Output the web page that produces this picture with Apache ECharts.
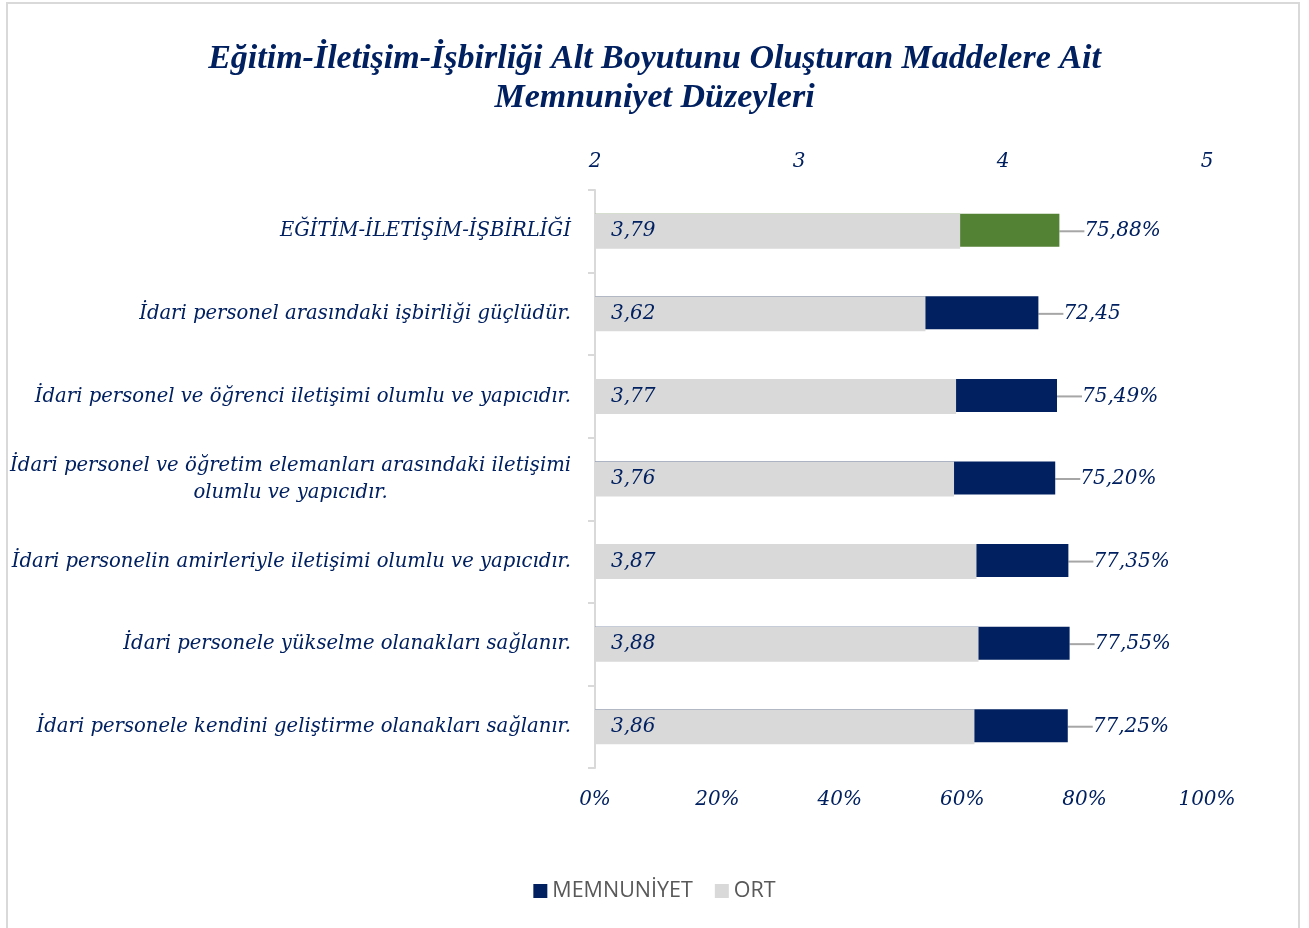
<!DOCTYPE html>
<html>
<head>
<meta charset="utf-8">
<script src="https://cdn.jsdelivr.net/npm/echarts@6/dist/echarts.min.js"></script>
<style>
html,body{margin:0;padding:0;background:#fff;}
#frame{position:absolute;left:6px;top:2px;width:1294px;height:940px;border:2px solid #d9d9d9;box-sizing:border-box;}
#chart{position:absolute;left:0;top:0;width:1309px;height:928px;}
</style>
</head>
<body>
<div id="frame"></div>
<div id="chart"></div>
<script>
const categories = [
  "EĞİTİM-İLETİŞİM-İŞBİRLİĞİ",
  "İdari personel arasındaki işbirliği güçlüdür.",
  "İdari personel ve öğrenci iletişimi olumlu ve yapıcıdır.",
  "İdari personel ve öğretim elemanları arasındaki iletişimi\nolumlu ve yapıcıdır.",
  "İdari personelin amirleriyle iletişimi olumlu ve yapıcıdır.",
  "İdari personele yükselme olanakları sağlanır.",
  "İdari personele kendini geliştirme olanakları sağlanır."
];
const ortValues = [3.79, 3.62, 3.77, 3.76, 3.87, 3.88, 3.86];
const memnuniyetValues = [0.7588, 0.7245, 0.7549, 0.7520, 0.7735, 0.7755, 0.7725];
const memnuniyetLabels = ["75,88%", "72,45", "75,49%", "75,20%", "77,35%", "77,55%", "77,25%"];
const topTicks = [2, 3, 4, 5];
const bottomTicks = [0, 0.2, 0.4, 0.6, 0.8, 1.0];

const NAVY = '#002060';
const GREEN = '#548235';
const GRAY = '#d9d9d9';
const SERIF = '"DejaVu Serif", "Liberation Serif", serif';
const TSERIF = '"Liberation Serif", serif';
const FS = 20;
const CFS = 19.6;

const chart = echarts.init(document.getElementById('chart'), null, {renderer: 'canvas'});

const option = {
  backgroundColor: 'transparent',
  animation: false,
  title: {
    text: 'Eğitim-İletişim-İşbirliği Alt Boyutunu Oluşturan Maddelere Ait\nMemnuniyet Düzeyleri',
    left: 'center',
    top: 35,
    textStyle: {
      fontFamily: TSERIF, fontStyle: 'italic', fontWeight: 'bold',
      fontSize: 34, lineHeight: 39, color: NAVY, align: 'center'
    }
  },
  legend: {
    bottom: 21,
    left: 'center',
    itemWidth: 14, itemHeight: 14, itemGap: 22,
    icon: 'rect',
    textStyle: {fontFamily: '"Open Sans", sans-serif', fontSize: 21.5, color: '#595959'},
    data: [
      {name: 'MEMNUNİYET', itemStyle: {color: NAVY}},
      {name: 'ORT', itemStyle: {color: GRAY}}
    ]
  },
  grid: {left: 595, right: 102, top: 190, bottom: 160, containLabel: false},
  xAxis: [
    {
      type: 'value', position: 'top', min: topTicks[0], max: topTicks[topTicks.length-1], interval: 1,
      axisLine: {show: false}, axisTick: {show: false}, splitLine: {show: false},
      axisLabel: {margin: 18, fontFamily: SERIF, fontStyle: 'italic', fontSize: FS, color: NAVY,
        formatter: v => String(v)}
    },
    {
      type: 'value', position: 'bottom', min: bottomTicks[0], max: bottomTicks[bottomTicks.length-1], interval: 0.2,
      axisLine: {show: false}, axisTick: {show: false}, splitLine: {show: false},
      axisLabel: {margin: 22, fontFamily: SERIF, fontStyle: 'italic', fontSize: FS, color: NAVY,
        formatter: v => Math.round(v * 100) + '%'}
    }
  ],
  yAxis: {
    type: 'category', inverse: true, data: categories,
    axisLine: {show: true, lineStyle: {color: GRAY, width: 2}},
    axisTick: {show: true, length: 7, lineStyle: {color: GRAY, width: 2}},
    axisLabel: {
      margin: 24, fontFamily: SERIF, fontStyle: 'italic', fontSize: CFS, color: NAVY,
      formatter: function (v) {
        if (v.indexOf('\n') >= 0) {
          return v.split('\n').map(s => '{c|' + s + '}').join('\n');
        }
        return v;
      },
      rich: {
        c: {fontFamily: SERIF, fontStyle: 'italic', fontSize: CFS, color: NAVY, align: 'center', lineHeight: 27}
      }
    }
  },
  series: [
    {
      name: 'MEMNUNİYET', type: 'bar', xAxisIndex: 1, barWidth: 33, barGap: '-100%',
      itemStyle: {color: NAVY},
      data: memnuniyetValues.map((v, i) => i === 0 ? {value: v, itemStyle: {color: GREEN}} : v),
      label: {
        show: true, position: 'right', distance: 2, padding: [0, 0, 0, 9],
        fontFamily: SERIF, fontStyle: 'italic', fontSize: FS, color: NAVY,
        formatter: p => memnuniyetLabels[p.dataIndex]
      },
      labelLayout: {dx: 14, dy: 1},
      labelLine: {show: true, lineStyle: {color: '#a6a6a6', width: 2}}
    },
    {
      name: 'ORT', type: 'bar', xAxisIndex: 0, barWidth: 35, barGap: '-100%', clip: true,
      itemStyle: {color: GRAY},
      data: ortValues,
      label: {
        show: true, position: 'insideLeft', distance: 16,
        fontFamily: SERIF, fontStyle: 'italic', fontSize: FS, color: NAVY,
        formatter: p => String(p.value).replace('.', ',')
      }
    }
  ]
};
chart.setOption(option);
</script>
</body>
</html>
